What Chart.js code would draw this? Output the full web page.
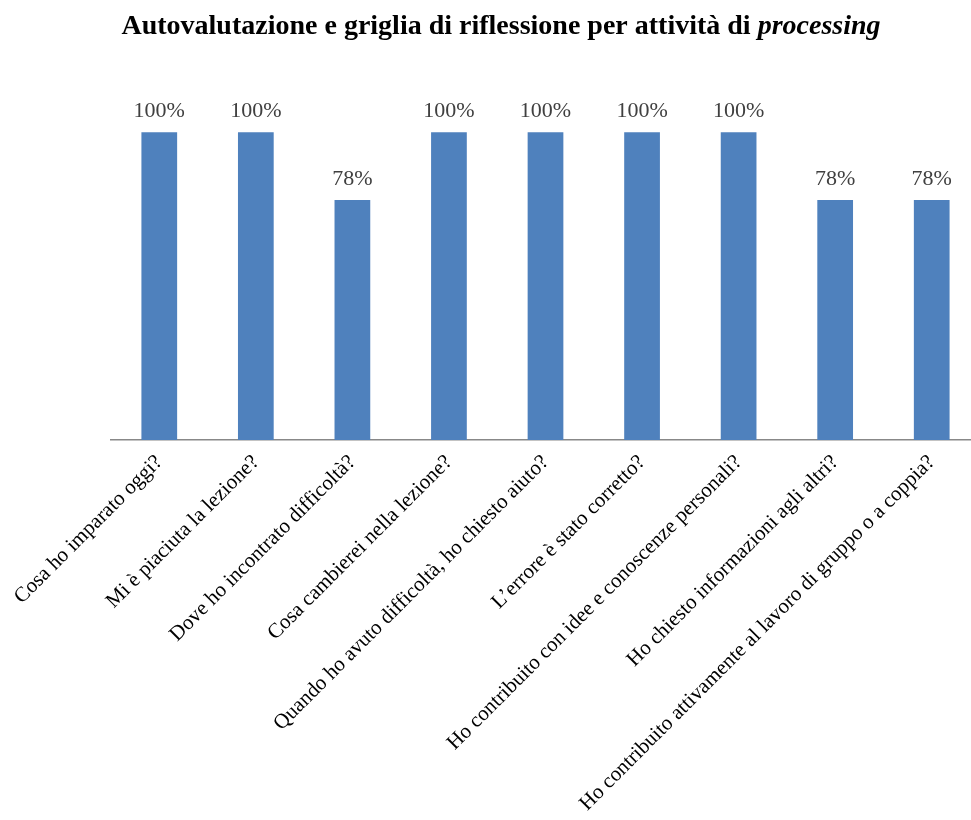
<!DOCTYPE html>
<html>
<head>
<meta charset="utf-8">
<script src="https://cdn.jsdelivr.net/npm/chart.js@4.4.1/dist/chart.umd.min.js"></script>
<style>
  html, body { margin: 0; padding: 0; background: #fff; overflow: hidden; }
  #wrap { width: 982px; height: 820px; position: relative; }
</style>
</head>
<body>
<div id="wrap"><canvas id="chart"></canvas></div>
<script>
const categories = [
  'Cosa ho imparato oggi?',
  'Mi è piaciuta la lezione?',
  'Dove ho incontrato difficoltà?',
  'Cosa cambierei nella lezione?',
  'Quando ho avuto difficoltà, ho chiesto aiuto?',
  'L’errore è stato corretto?',
  'Ho contribuito con idee e conoscenze personali?',
  'Ho chiesto informazioni agli altri?',
  'Ho contribuito attivamente al lavoro di gruppo o a coppia?'
];
const values = [1, 1, 0.78, 1, 1, 1, 1, 0.78, 0.78];

const serif = '"Liberation Serif", "Times New Roman", serif';

// titolo con la parola finale in corsivo
const titlePlugin = {
  id: 'mixedTitle',
  afterDraw(chart) {
    const ctx = chart.ctx;
    const a = 'Autovalutazione e griglia di riflessione per attività di ';
    const b = 'processing';
    ctx.save();
    ctx.fillStyle = '#000';
    ctx.textBaseline = 'alphabetic';
    ctx.font = 'bold 28px ' + serif;
    const wa = ctx.measureText(a).width;
    ctx.font = 'italic bold 28px ' + serif;
    const wb = ctx.measureText(b).width;
    let x = 501 - (wa + wb) / 2;
    ctx.font = 'bold 28px ' + serif;
    ctx.fillText(a, x, 34);
    ctx.font = 'italic bold 28px ' + serif;
    ctx.fillText(b, x + wa, 34);
    ctx.restore();
  }
};

// etichette percentuali sopra le barre
const valueLabels = {
  id: 'valueLabels',
  afterDatasetsDraw(chart) {
    const ctx = chart.ctx;
    const meta = chart.getDatasetMeta(0);
    ctx.save();
    ctx.font = '22px ' + serif;
    ctx.fillStyle = '#404040';
    ctx.textAlign = 'center';
    ctx.textBaseline = 'alphabetic';
    meta.data.forEach((bar, i) => {
      ctx.fillText(Math.round(values[i] * 100) + '%', bar.x, bar.y - 15);
    });
    ctx.restore();
  }
};

new Chart(document.getElementById('chart'), {
  type: 'bar',
  data: {
    labels: categories,
    datasets: [{
      data: values,
      backgroundColor: '#4F81BD',
      borderWidth: 0,
      barPercentage: 0.37,
      categoryPercentage: 1
    }]
  },
  options: {
    responsive: true,
    maintainAspectRatio: false,
    animation: false,
    layout: { padding: { left: 111, right: 2, top: 0, bottom: 0 } },
    plugins: {
      legend: { display: false },
      tooltip: { enabled: false },
      title: { display: false }
    },
    scales: {
      x: {
        grid: { drawOnChartArea: false, drawTicks: false },
        border: { display: true, color: '#888', width: 1.5 },
        ticks: {
          autoSkip: false,
          maxRotation: 45,
          minRotation: 45,
          padding: 10,
          color: '#000',
          font: { family: serif, size: 21 }
        },
        afterFit(scale) { scale.height = 380; }
      },
      y: {
        display: false,
        min: 0,
        max: 1.43
      }
    }
  },
  plugins: [titlePlugin, valueLabels]
});
</script>
</body>
</html>
